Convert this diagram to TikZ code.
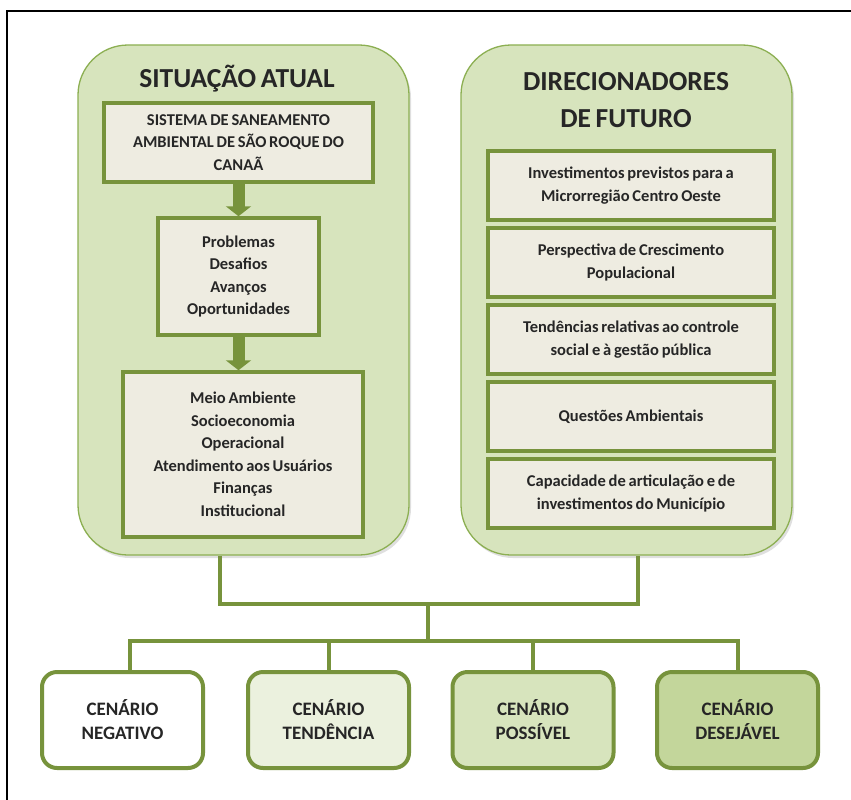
\documentclass[tikz,border=0pt]{standalone}
\usepackage{fontspec}
\setmainfont{Carlito}[WordSpace=0.75]
\usepackage{xcolor}
\usetikzlibrary{arrows.meta,shadows}
\definecolor{olive}{HTML}{77933C}
\definecolor{panelfill}{HTML}{D7E4BD}
\definecolor{paneldraw}{HTML}{8CAF52}
\definecolor{beige}{HTML}{EEECE1}
\definecolor{palegreen}{HTML}{EBF1DE}
\definecolor{deepgreen}{HTML}{C3D69B}
\definecolor{ink}{HTML}{262626}

\begin{document}
\begin{tikzpicture}[x=1pt, y=-1pt,
  panel/.style={draw=paneldraw, line width=1.3pt, fill=panelfill, rounded corners=50pt,
                minimum width=331pt, minimum height=510pt,
                drop shadow={shadow xshift=2pt, shadow yshift=-3pt, opacity=.25}},
  title/.style={font=\fontsize{27.5}{37}\selectfont\bfseries, text=ink, align=center, inner sep=0pt},
  ibox/.style={draw=olive, line width=3.5pt, fill=beige, align=center, text=ink,
               font=\fontsize{16.5}{22.5}\selectfont\bfseries},
  dbox/.style={ibox, minimum width=286pt, minimum height=69pt},
  cbox/.style={draw=olive, line width=4pt, rounded corners=15pt, align=center, text=ink,
               minimum width=161pt, minimum height=96pt,
               font=\fontsize{19}{24}\selectfont\bfseries},
  link/.style={draw=olive, line width=4pt},
  flow/.style={olive, line width=12pt, -{Triangle[width=25pt, length=10pt]}}
]
  \useasboundingbox (0,0) rectangle (851,800);
  % frame
  \draw[line width=1.3pt] (7,800) -- (7,11) -- (851,11);

  % panels
  \node[panel] (sa) at (243.5,300) {};
  \node[panel] (df) at (626.5,300) {};
  \node[title, anchor=base] (sat) at (237,88) {SITUAÇÃO ATUAL};
  \node[title, anchor=north] (dft) at (626,72) {DIRECIONADORES\\DE FUTURO};

  % situacao atual
  \node[ibox, minimum width=269pt, minimum height=79pt] (s1) at (238.5,142.5)
    {SISTEMA DE SANEAMENTO\\AMBIENTAL DE SÃO ROQUE DO\\CANAÃ};
  \node[ibox, minimum width=161pt, minimum height=117pt] (s2) at (238.5,276.5)
    {Problemas\\Desafios\\Avanços\\Oportunidades};
  \node[ibox, minimum width=240pt, minimum height=165pt] (s3) at (243,454.5)
    {Meio Ambiente\\Socioeconomia\\Operacional\\Atendimento aos Usuários\\Finanças\\Institucional};
  \draw[flow] (s1.south) -- (s2.north);
  \draw[flow] (s2.south) -- (s2.south |- s3.north);

  % direcionadores
  \foreach \txt [count=\i] in {Investimentos previstos para a\\Microrregião Centro Oeste,
      Perspectiva de Crescimento\\Populacional,
      Tendências relativas ao controle\\social e à gestão pública,
      Questões Ambientais,
      Capacidade de articulação e de\\investimentos do Município}
    \node[dbox] (d\i) at (631,108.5+77*\i) {\txt};

  % cenarios
  \node[cbox, fill=white] (c1) at (122.5,720) {CENÁRIO\\NEGATIVO};
  \node[cbox, fill=palegreen] (c2) at (328.5,720) {CENÁRIO\\TENDÊNCIA};
  \node[cbox, fill=panelfill] (c3) at (533,720) {CENÁRIO\\POSSÍVEL};
  \node[cbox, fill=deepgreen] (c4) at (737.5,720) {CENÁRIO\\DESEJÁVEL};

  % connectors
  \coordinate (jl) at (220,604);
  \coordinate (jr) at (638,604);
  \coordinate (jm) at (428,604);
  \coordinate (jb) at (428,641);
  \draw[link] (sa.south -| jl) -- (jl) -- (jr) -- (df.south -| jr);
  \draw[link] (jm) -- (jb);
  \draw[link] ([xshift=7.5pt]c1.north) |- (jb) -| (c4.north);
  \draw[link] (c2.north) -- (c2.north |- jb);
  \draw[link] (c3.north) -- (c3.north |- jb);
\end{tikzpicture}
\end{document}
